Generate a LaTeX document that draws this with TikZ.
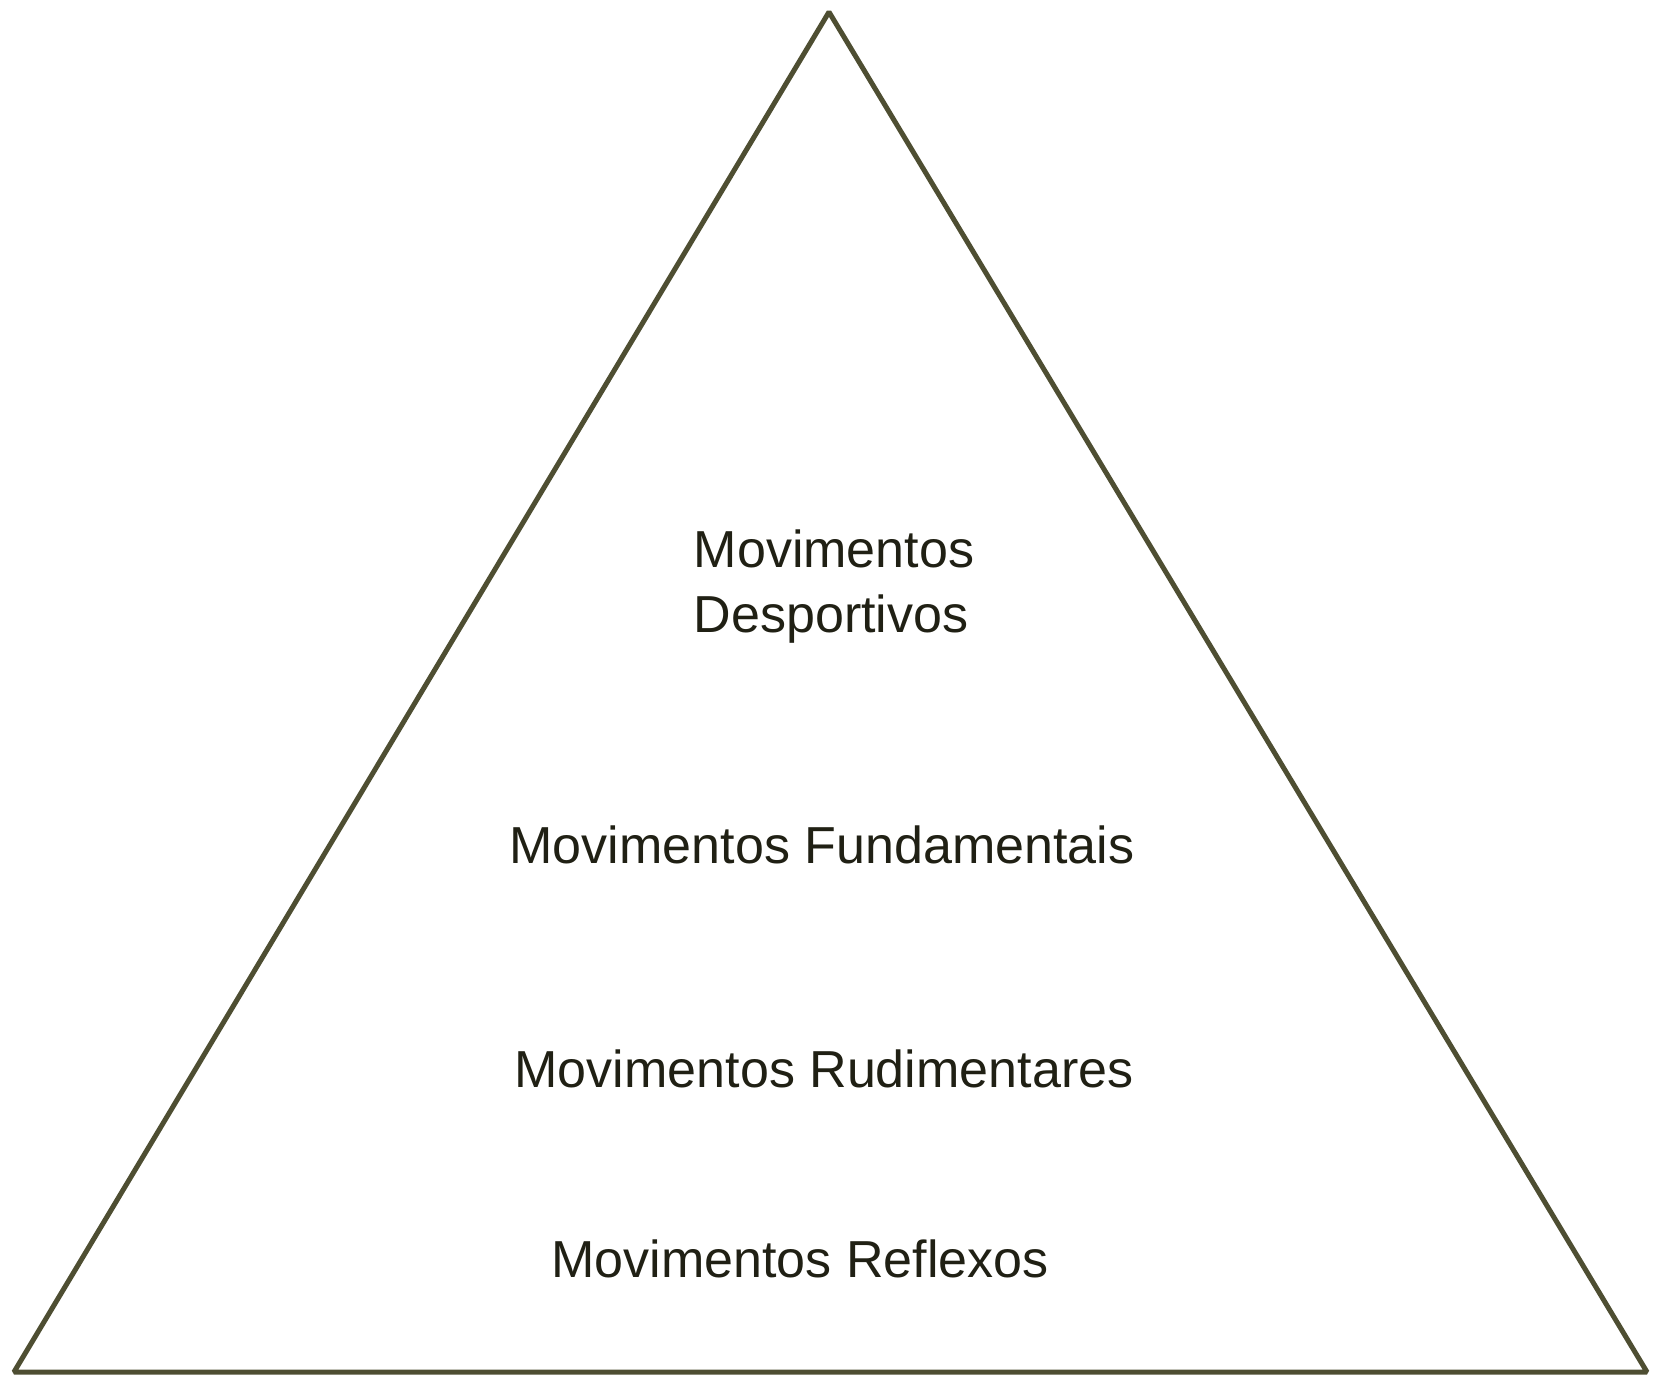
\documentclass[tikz,border=0pt]{standalone}
\usepackage{fontspec}
\setmainfont{Liberation Sans}
\definecolor{pyramidline}{RGB}{78,78,50}
\definecolor{pyramidtext}{RGB}{32,32,20}

\begin{document}
\begin{tikzpicture}[x=0.01cm,y=-0.01cm,
  level/.style={text=pyramidtext,inner sep=0pt,font=\fontsize{14.8}{18.4}\selectfont}]
\useasboundingbox (0,0) rectangle (1660,1375);
\draw [pyramidline,line width=0.05cm,line join=bevel] (829,12) -- (1647,1372) -- (14,1372) -- cycle;
\node [level,anchor=base west,align=left] (desportivos) at (693,632) {Movimentos\\Desportivos};
\node [level,anchor=base] (fundamentais) at (822,863) {Movimentos Fundamentais};
\node [level,anchor=base] (rudimentares) at (824,1087) {Movimentos Rudimentares};
\node [level,anchor=base] (reflexos) at (800,1277) {Movimentos Reflexos};
\end{tikzpicture}
\end{document}
